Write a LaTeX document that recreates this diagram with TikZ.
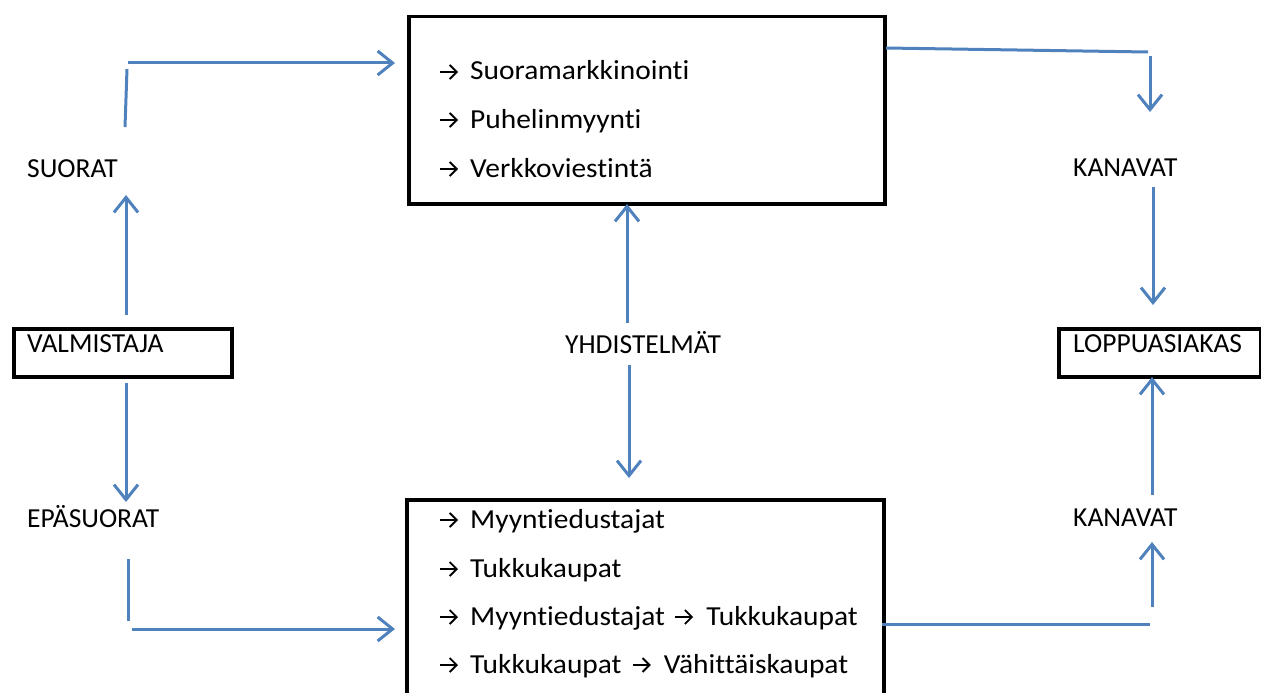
\documentclass[tikz,border=0pt]{standalone}
\usepackage{fontspec}
\setmainfont{Carlito}[Ligatures=NoCommon]
\newfontfamily\listfont{Carlito}[Ligatures=NoCommon, FakeStretch=1.07]
\usetikzlibrary{arrows.meta}
\definecolor{flow}{HTML}{4F81BD}
\tikzset{
  box/.style={draw=black, line width=3.5pt, inner sep=0pt, anchor=north west},
  lbl/.style={anchor=base west, inner sep=0pt, font=\fontsize{27.5}{32}\selectfont},
  item/.style={lbl, font=\listfont\fontsize{27.5}{32}\selectfont},
  flowline/.style={draw=flow, line width=3pt},
  flowarrow/.style={flowline, -{Straight Barb[length=15pt, width=24pt, line width=3pt]}},
  % small black arrow set in front of list entries
  txtarr/.pic={\draw[line width=1.8pt, -{Straight Barb[length=7pt, width=14pt, line width=1.8pt]}]
    (0,-8) -- (18,-8);}
}
\begin{document}
\begin{tikzpicture}[x=1pt, y=-1pt]
\useasboundingbox (0,0) rectangle (1261,693);

% boxes
\node[box, minimum width=476pt, minimum height=187pt] (direct) at (407,15) {};
\draw[line width=3.5pt] (407,720) -- (407,500) -- (884,500) -- (884,720);
\coordinate (indirect) at (407,500);
\node[box, minimum width=218pt, minimum height=48pt] (valm) at (12,327) {};
\node[box, minimum width=202pt, minimum height=48pt] (loppu) at (1057,327) {};

% labels
\node[lbl] (valmtxt) at (27,352) {VALMISTAJA};
\node[lbl] (lopputxt) at (1073,352) {LOPPUASIAKAS};
\node[lbl] (suorat) at (27,177) {SUORAT};
\node[lbl] (epasuorat) at (27,527) {EPÄSUORAT};
\node[lbl] (kanavat1) at (1073,176) {KANAVAT};
\node[lbl] (kanavat2) at (1073,526) {KANAVAT};
\node[lbl] (yhd) at (565,353) {YHDISTELMÄT};

% list inside the upper box
\pic at (440,80) {txtarr};  \node[item] (d1) at (470,80) {Suoramarkkinointi};
\pic at (440,128) {txtarr}; \node[item] (d2) at (470,128) {Puhelinmyynti};
\pic at (440,177) {txtarr}; \node[item] (d3) at (470,177) {Verkkoviestintä};

% list inside the lower box
\pic at (440,528) {txtarr}; \node[item] (i1) at (470,528) {Myyntiedustajat};
\pic at (440,577) {txtarr}; \node[item] (i2) at (470,577) {Tukkukaupat};
\pic at (440,625) {txtarr}; \node[item] (i3a) at (470,625) {Myyntiedustajat};
\pic at ([xshift=10pt]i3a.base east) {txtarr};
\node[item] (i3b) at ([xshift=41pt]i3a.base east) {Tukkukaupat};
\pic at (440,673) {txtarr}; \node[item] (i4a) at (470,673) {Tukkukaupat};
\pic at ([xshift=11pt]i4a.base east) {txtarr};
\node[item] (i4b) at ([xshift=42pt]i4a.base east) {Vähittäiskaupat};

% connector end points
\coordinate (a1) at (125,127);  \coordinate (a2) at (127,69);
\coordinate (a3) at (128,63);   \coordinate (a4) at (395,63);
\coordinate (b1) at (126,315);  \coordinate (b2) at (126,195);
\coordinate (c1) at (126,383);  \coordinate (c2) at (126,502);
\coordinate (e1) at (128,559);  \coordinate (e2) at (128,621);
\coordinate (e3) at (132,629);  \coordinate (e4) at (395,629);
\coordinate (f1) at (886,48);   \coordinate (f2) at (1148,52);
\coordinate (f3) at (1150,56);  \coordinate (f4) at (1150,112);
\coordinate (g1) at (1153,187); \coordinate (g2) at (1153,305);
\coordinate (h1) at (882,624);  \coordinate (h2) at (1150,624);
\coordinate (h3) at (1152,607); \coordinate (h4) at (1152,542);
\coordinate (k1) at (1152,495); \coordinate (k2) at (1152,377);
\coordinate (m1) at (627,323);  \coordinate (m2) at (627,204);
\coordinate (n1) at (629,365);  \coordinate (n2) at (629,478);

% connectors
\draw[flowline] (a1) -- (a2);
\draw[flowarrow] (a3) -- (a4);
\draw[flowarrow] (b1) -- (b2);
\draw[flowarrow] (c1) -- (c2);
\draw[flowline] (e1) -- (e2);
\draw[flowarrow] (e3) -- (e4);
\draw[flowline] (f1) -- (f2);
\draw[flowarrow] (f3) -- (f4);
\draw[flowarrow] (g1) -- (g2);
\draw[flowline] (h1) -- (h2);
\draw[flowarrow] (h3) -- (h4);
\draw[flowarrow] (k1) -- (k2);
\draw[flowarrow] (m1) -- (m2);
\draw[flowarrow] (n1) -- (n2);
\end{tikzpicture}
\end{document}
